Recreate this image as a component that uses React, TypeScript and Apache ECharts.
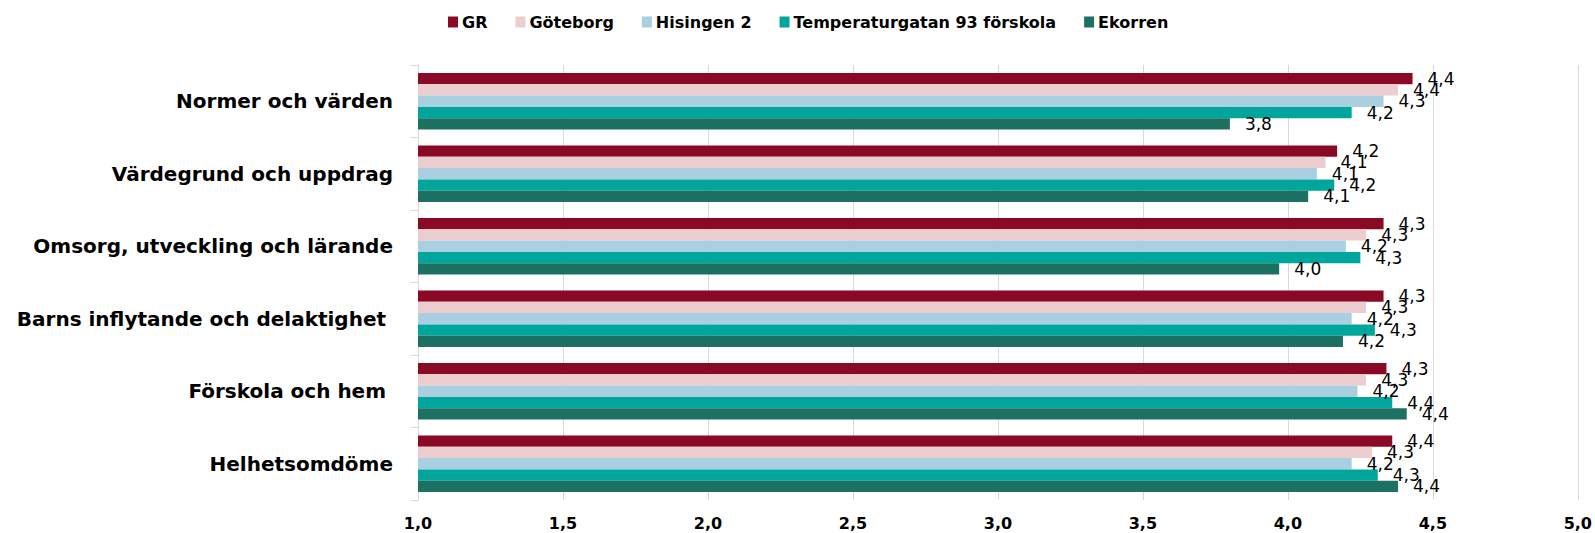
import React, { useEffect, useRef } from "react";
import * as echarts from "echarts";

const categories = [
  "Normer och värden",
  "Värdegrund och uppdrag",
  "Omsorg, utveckling och lärande",
  "Barns inflytande och delaktighet ",
  "Förskola och hem ",
  "Helhetsomdöme",
];

const seriesNames = ["GR", "Göteborg", "Hisingen 2", "Temperaturgatan 93 förskola", "Ekorren"];
const seriesColors = ["#8a0a26", "#ecced0", "#a9cfe0", "#00a59c", "#1c7163"];

const grValues = [4.43, 4.17, 4.33, 4.33, 4.34, 4.36];
const goteborgValues = [4.38, 4.13, 4.27, 4.27, 4.27, 4.29];
const hisingenValues = [4.33, 4.1, 4.2, 4.22, 4.24, 4.22];
const temperaturValues = [4.22, 4.16, 4.25, 4.3, 4.36, 4.31];
const ekorrenValues = [3.8, 4.07, 3.97, 4.19, 4.41, 4.38];

const xTicks = { min: 1, max: 5, interval: 0.5 };

const seriesValues = [grValues, goteborgValues, hisingenValues, temperaturValues, ekorrenValues];

const wide = "'DejaVu Sans', 'Liberation Sans', sans-serif";

export default function App() {
  const ref = useRef<HTMLDivElement>(null);
  useEffect(() => {
    if (!ref.current) return;
    const chart = echarts.init(ref.current, undefined, { renderer: "svg" });
    chart.setOption({
      animation: false,
      backgroundColor: "#ffffff",
      legend: {
        top: 9,
        left: 443,
        itemWidth: 10,
        itemHeight: 11,
        itemGap: 28,
        icon: "rect",
        textStyle: { fontFamily: wide, fontWeight: "bold", fontSize: 16, color: "#000", padding: [0, 0, 0, -1] },
        data: seriesNames,
      },
      grid: { left: 418, right: 17, top: 65, bottom: 33, containLabel: false },
      xAxis: {
        type: "value",
        min: xTicks.min,
        max: xTicks.max,
        interval: xTicks.interval,
        axisLine: { show: false },
        axisTick: { show: false },
        splitLine: { show: true, lineStyle: { color: "#d9d9d9", width: 1 } },
        axisLabel: {
          margin: 15,
          fontFamily: wide,
          fontWeight: "bold",
          fontSize: 16,
          color: "#000",
          formatter: (v: number) => v.toFixed(1).replace(".", ","),
        },
      },
      yAxis: {
        type: "category",
        inverse: true,
        data: categories,
        axisLine: { show: true, lineStyle: { color: "#d9d9d9" } },
        axisTick: { show: true, length: 8, lineStyle: { color: "#d9d9d9" } },
        axisLabel: {
          margin: 25,
          fontFamily: wide,
          fontWeight: "bold",
          fontSize: 20,
          color: "#000",
        },
      },
      series: seriesNames.map((name, i) => ({
        name,
        type: "bar",
        data: seriesValues[i],
        barGap: "0%",
        barCategoryGap: "22%",
        itemStyle: { color: seriesColors[i] },
        label: {
          show: true,
          position: "right",
          distance: 15,
          fontFamily: wide,
          fontSize: 17,
          color: "#000",
          formatter: (p: any) => Number(p.value).toFixed(1).replace(".", ","),
        },
      })),
    });
    return () => chart.dispose();
  }, []);
  return (
    <div
      ref={ref}
      style={{ position: "fixed", left: 0, top: 0, width: 1595, height: 533 }}
    />
  );
}
